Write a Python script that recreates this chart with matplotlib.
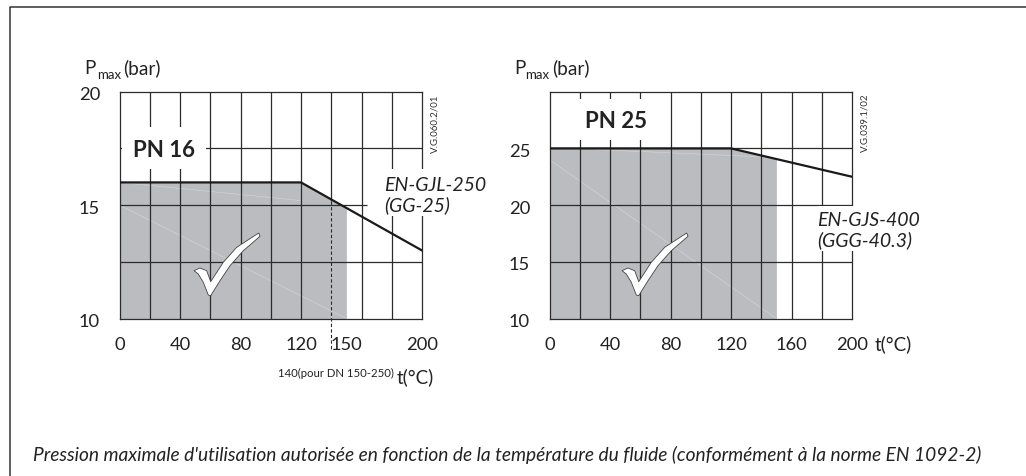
import matplotlib
matplotlib.use('Agg')
from matplotlib import pyplot as plt
from matplotlib.patches import Polygon, Rectangle
from matplotlib.transforms import ScaledTranslation

plt.rcParams['font.family'] = ['Lato', 'DejaVu Sans']

W, H = 1026, 477
DARK = '#2b2b2b'
GREY = '#bbbcbf'
TXT = '#222222'

# left chart (PN 16)
t_16 = [0, 120, 200]
p_16 = [16, 16, 13]
fill_t_16 = [0, 120, 150]
fill_p_16 = [16, 16, 14.875]
xticks_16 = [0, 40, 80, 120, 150, 200]
yticks_16 = [10, 15, 20]

# right chart (PN 25)
t_25 = [0, 120, 200]
p_25 = [25, 25, 22.5]
fill_t_25 = [0, 120, 150]
fill_p_25 = [25, 25, 24.06]
xticks_25 = [0, 40, 80, 120, 160, 200]
yticks_25 = [10, 15, 20, 25]

vgrid = [20, 40, 60, 80, 100, 120, 140, 160, 180]

# check mark outline, pixels of the reference
check = [(194, 271.7), (200, 269), (206.7, 271.7), (210.7, 282.7), (223.3, 263.3), (236.7, 248.3),
         (258.7, 234), (260, 237.3), (243.3, 251.7), (230, 266.7), (220, 281.7), (210.7, 296.7),
         (208.3, 296), (203.3, 283.3), (198.3, 275)]


def px(x, y):
    return x / W, 1 - y / H


def make_axes(fig, left, yticks):
    ax = fig.add_axes([left / W, 1 - 319.5 / H, 302.5 / W, 226.8 / H])
    ax.set_xlim(0, 200)
    ax.set_yticks(yticks)
    ax.tick_params(length=0, labelsize=13.2, colors=TXT)
    ax.tick_params(axis='x', pad=12.5)
    ax.tick_params(axis='y', pad=14)
    # y labels sit a pixel under their gridlines
    for lab in ax.get_yticklabels():
        lab.set_transform(lab.get_transform() + ScaledTranslation(0, -1.2 / 100, fig.dpi_scale_trans))
    for s in ax.spines.values():
        s.set_linewidth(0.9)
        s.set_color(DARK)
    return ax


def draw_check(ax, shift):
    pts = [((x - 119.5 + shift) / 302.5, (319.5 - y) / 226.8) for x, y in check]
    ax.add_patch(Polygon(pts, closed=True, fc='white', ec='#444444', lw=0.6,
                         transform=ax.transAxes, zorder=4))


fig = plt.figure(figsize=(W / 100, H / 100), dpi=100)

# outer frame, open on the right and at the bottom
fig.add_artist(plt.Line2D([9.5 / W, 9.5 / W, 1], [0, 1 - 8 / H, 1 - 8 / H], color='#333333', lw=1.1))

# PN 16
ax = make_axes(fig, 119.5, yticks_16)
ax.set_ylim(10, 20)
ax.set_xticks(xticks_16)
ax.fill_between(fill_t_16, fill_p_16, 10, color=GREY, lw=0, zorder=1)
ax.plot([0, 150], [15, 10], color='white', lw=0.4, alpha=0.4, zorder=1.1)
ax.plot([0, 120], [16, 15.2], color='white', lw=0.4, alpha=0.4, zorder=1.1)
ax.vlines([v for v in vgrid if v != 140], 10, 20, color=DARK, lw=0.9, zorder=1.2)
ax.vlines(140, 15.2, 20, color=DARK, lw=0.9, zorder=1.2)
ax.plot([140, 140], [15.2, 8.55], color=DARK, lw=0.8, ls=(0, (3, 2)), clip_on=False, zorder=1.2)
ax.hlines([17.5, 12.5], 0, 200, color=DARK, lw=0.9, zorder=1.2)
ax.hlines(15, 0, 163.5, color=DARK, lw=0.9, zorder=1.2)
ax.add_patch(Rectangle((1.5, 16.6), 56, 1.84, fc='white', ec='none', zorder=1.5))
ax.plot(t_16, p_16, color='#1a1a1a', lw=1.6, zorder=3, solid_joinstyle='miter')
ax.text(29.5, 17.44, 'PN 16', fontsize=16, fontweight='bold', ha='center', va='center', color=TXT, zorder=5)
draw_check(ax, 0)

# PN 25
ax2 = make_axes(fig, 549.5, yticks_25)
ax2.set_ylim(10, 30)
ax2.set_xticks(xticks_25)
ax2.fill_between(fill_t_25, fill_p_25, 10, color=GREY, lw=0, zorder=1)
ax2.plot([0, 150], [24, 10], color='white', lw=0.4, alpha=0.4, zorder=1.1)
ax2.plot([30, 150], [24.9, 24.2], color='white', lw=0.4, alpha=0.4, zorder=1.1)
ax2.vlines(vgrid, 10, 30, color=DARK, lw=0.9, zorder=1.2)
ax2.hlines([25, 20, 15], 0, 200, color=DARK, lw=0.9, zorder=1.2)
ax2.add_patch(Rectangle((4, 25.74), 72, 3.62, fc='white', ec='none', zorder=1.5))
ax2.plot(t_25, p_25, color='#1a1a1a', lw=1.6, zorder=3, solid_joinstyle='miter')
ax2.text(44, 27.44, 'PN 25', fontsize=16, fontweight='bold', ha='center', va='center', color=TXT, zorder=5)
draw_check(ax2, -2)

# material labels with a white backing over the grid
fig.patches.append(Rectangle((384 / W, 1 - 217 / H), 60 / W, 47 / H, fc='white', ec='none',
                             transform=fig.transFigure, figure=fig, zorder=4))
fig.patches.append(Rectangle((818 / W, 1 - 252 / H), 60 / W, 45 / H, fc='white', ec='none',
                             transform=fig.transFigure, figure=fig, zorder=4))
fig.text(*px(384, 195.5), 'EN-GJL-250\n(GG-25)', fontsize=14, style='italic', va='center', ha='left',
         color=TXT, linespacing=1.1, zorder=5)
fig.text(*px(817, 230.5), 'EN-GJS-400\n(GGG-40.3)', fontsize=14, style='italic', va='center', ha='left',
         color=TXT, linespacing=1.1, zorder=5)

# axis titles
fig.text(*px(84, 68), 'P', fontsize=13.5, va='center', color=TXT)
fig.text(*px(97, 75), 'max', fontsize=9.5, va='center', color=TXT)
fig.text(*px(123, 68), '(bar)', fontsize=13.8, va='center', color=TXT)
fig.text(*px(514, 68), 'P', fontsize=13.5, va='center', color=TXT)
fig.text(*px(525, 75), 'max', fontsize=9.5, va='center', color=TXT)
fig.text(*px(552, 68), '(bar)', fontsize=13.8, va='center', color=TXT)

fig.text(*px(278, 373), '140(pour DN 150-250)', fontsize=8.2, va='center', color=TXT)
fig.text(*px(397, 377), 't(°C)', fontsize=13.5, va='center', color=TXT)
fig.text(*px(875, 344), 't(°C)', fontsize=13.5, va='center', color=TXT)

fig.text(*px(435, 124), 'V.G.060.2/01', fontsize=7, rotation=90, ha='center', va='center', color='#333333')
fig.text(*px(865, 123), 'V.G.039.1/02', fontsize=7, rotation=90, ha='center', va='center', color='#333333')

fig.text(*px(33, 455), "Pression maximale d'utilisation autorisée en fonction de la température du fluide (conformément à la norme EN 1092-2)",
         fontsize=13.8, style='italic', va='center', color=TXT)

fig.savefig('out.png', dpi=100)
